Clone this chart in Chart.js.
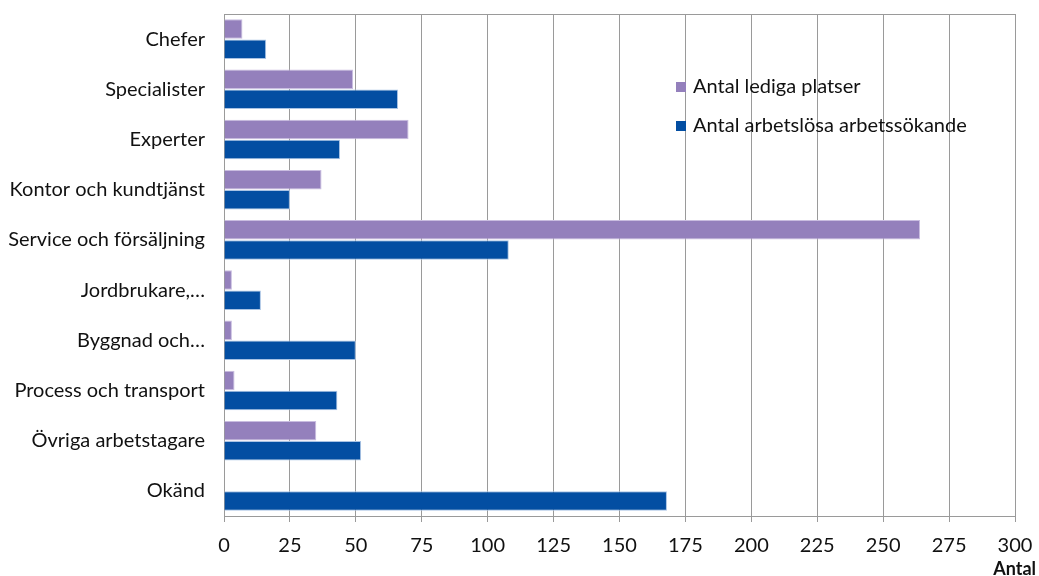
<!DOCTYPE html>
<html>
<head>
<meta charset="utf-8">
<script src="https://cdn.jsdelivr.net/npm/chart.js@4.4.0/dist/chart.umd.min.js"></script>
<style>
  html, body { margin: 0; padding: 0; background: #fff; }
  #wrap { width: 1039px; height: 576px; position: relative; }
</style>
</head>
<body>
<div id="wrap"><canvas id="chart"></canvas></div>
<script>
// Yrkesgrupper och antal
const categories = [
  'Chefer', 'Specialister', 'Experter', 'Kontor och kundtjänst',
  'Service och försäljning', 'Jordbrukare,…', 'Byggnad och…',
  'Process och transport', 'Övriga arbetstagare', 'Okänd'
];
const ledigaPlatser = [7, 49, 70, 37, 264, 3, 3, 4, 35, 0];
const arbetslosa = [16, 66, 44, 25, 108, 14, 50, 43, 52, 168];
const seriesNames = ['Antal lediga platser', 'Antal arbetslösa arbetssökande'];
const seriesColors = ['#9480BC', '#034EA2'];
const axisMax = 300;
const axisStep = 25;
const axisTitle = 'Antal';

const FONT = 'Lato, "Open Sans", sans-serif';
const GRID = '#9a9a9a';
const PLOT = { left: 224, right: 1015, top: 14, bottom: 516 };

// legend + axis title + top border, drawn on the canvas
const extras = {
  id: 'extras',
  afterDraw(chart) {
    const ctx = chart.ctx;
    const area = chart.chartArea;
    ctx.save();
    ctx.strokeStyle = GRID;
    ctx.lineWidth = 1;
    ctx.beginPath();
    ctx.moveTo(area.left, area.top + 0.5);
    ctx.lineTo(area.right, area.top + 0.5);
    ctx.stroke();

    // legend inside plot area
    const lx = 676, ly = [87, 126];
    ctx.font = '20px ' + FONT;
    ctx.textBaseline = 'middle';
    ctx.textAlign = 'left';
    chart.data.datasets.forEach((ds, i) => {
      ctx.fillStyle = ds.backgroundColor;
      ctx.fillRect(lx, ly[i] - 5, 10, 10);
      ctx.fillStyle = '#111';
      ctx.fillText(ds.label, lx + 17, ly[i]);
    });

    ctx.font = 'bold 18px ' + FONT;
    ctx.textAlign = 'right';
    ctx.fillStyle = '#111';
    ctx.fillText(axisTitle, 1036, 569);
    ctx.restore();
  }
};

new Chart(document.getElementById('chart'), {
  type: 'bar',
  data: {
    labels: categories,
    datasets: [
      { label: seriesNames[0], data: ledigaPlatser, backgroundColor: seriesColors[0], borderColor: '#c9bde0', borderWidth: 1 },
      { label: seriesNames[1], data: arbetslosa, backgroundColor: seriesColors[1], borderColor: '#a9c3e4', borderWidth: 1 }
    ]
  },
  options: {
    indexAxis: 'y',
    responsive: true,
    maintainAspectRatio: false,
    animation: false,
    devicePixelRatio: 1,
    layout: { padding: 0 },
    datasets: { bar: { categoryPercentage: 0.8, barPercentage: 0.97 } },
    plugins: {
      legend: { display: false },
      tooltip: { enabled: false }
    },
    scales: {
      x: {
        min: 0,
        max: axisMax,
        ticks: {
          stepSize: axisStep,
          color: '#111',
          font: { family: FONT, size: 20 },
          padding: 12
        },
        grid: { color: GRID, tickLength: 6, drawTicks: true, tickColor: GRID },
        border: { display: true, color: GRID },
        afterFit(scale) { scale.height = 576 - PLOT.bottom; }
      },
      y: {
        ticks: {
          color: '#111',
          font: { family: FONT, size: 20 },
          padding: 19
        },
        grid: { display: false, drawTicks: false },
        border: { display: true, color: GRID },
        afterFit(scale) { scale.width = PLOT.left; }
      }
    }
  },
  plugins: [extras, {
    id: 'fixArea',
    afterLayout(chart) {
      // keep plot rectangle where the reference has it
      const a = chart.chartArea;
      a.top = PLOT.top; a.right = PLOT.right;
      a.width = a.right - a.left; a.height = a.bottom - a.top;
      const x = chart.scales.x, y = chart.scales.y;
      x.right = PLOT.right; x.width = x.right - x.left;
      x.configure();
      y.top = PLOT.top; y.height = y.bottom - y.top;
      y.configure();
    }
  }]
});
</script>
</body>
</html>
